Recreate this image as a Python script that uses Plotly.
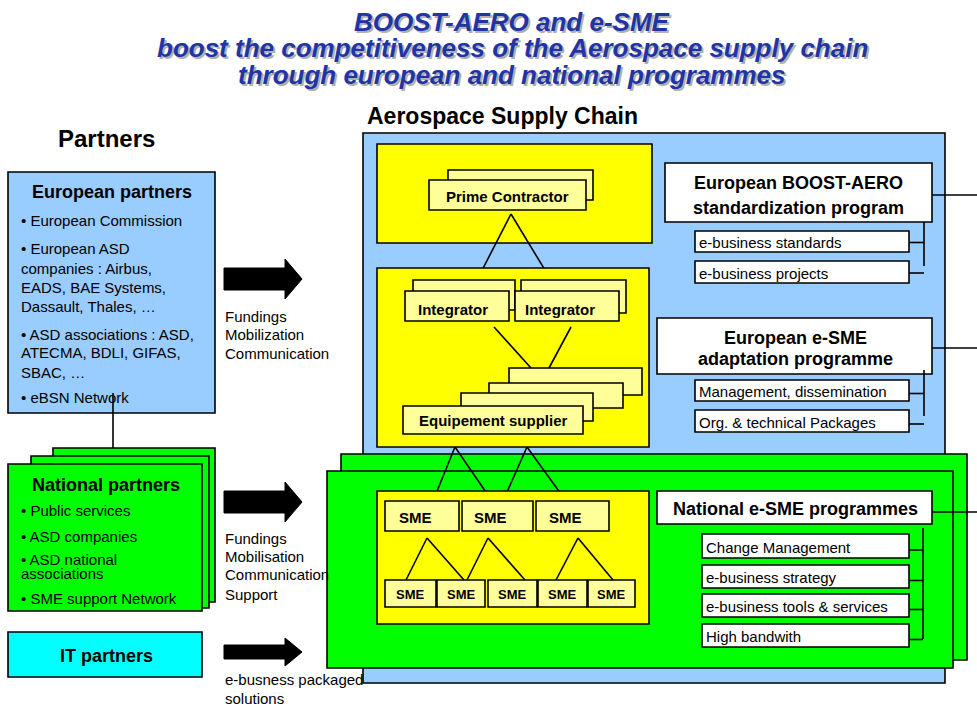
import plotly.graph_objects as go

FONT = "Liberation Sans, Arial, sans-serif"

# texts of the diagram
TITLE_LINES = [
    "BOOST-AERO and e-SME",
    "boost the competitiveness of the Aerospace supply chain",
    "through european and national programmes",
]
EUROPEAN_PARTNERS = [
    "• European Commission",
    "• European ASD",
    "companies : Airbus,",
    "EADS, BAE Systems,",
    "Dassault, Thales, …",
    "• ASD associations : ASD,",
    "ATECMA, BDLI, GIFAS,",
    "SBAC, …",
    "• eBSN Network",
]
NATIONAL_PARTNERS = [
    "• Public services",
    "• ASD companies",
    "• ASD national",
    "associations",
    "• SME support Network",
]
FLOW_EUROPEAN = ["Fundings", "Mobilization", "Communication"]
FLOW_NATIONAL = ["Fundings", "Mobilisation", "Communication", "Support"]
FLOW_IT = ["e-busness packaged", "solutions"]
BOOST_AERO_TITLE = ["European BOOST-AERO", "standardization program"]
BOOST_AERO_ITEMS = ["e-business standards", "e-business projects"]
ESME_EU_TITLE = ["European e-SME", "adaptation programme"]
ESME_EU_ITEMS = ["Management, dissemination", "Org. & technical Packages"]
ESME_NAT_TITLE = "National e-SME programmes"
ESME_NAT_ITEMS = ["Change Management", "e-business strategy",
                  "e-business tools & services", "High bandwith"]
INTEGRATORS = ["Integrator", "Integrator"]
SME_TOP = ["SME", "SME", "SME"]
SME_BOTTOM = ["SME", "SME", "SME", "SME", "SME"]

BLUE = "#99ccff"
GREEN = "#00ff00"
YELLOW = "#ffff00"
PALE = "#ffff99"
CYAN = "#00ffff"

shapes = []
notes = []


def rect(x0, y0, x1, y1, fill, w=1.6):
    shapes.append(dict(type="rect", x0=x0, y0=y0, x1=x1, y1=y1,
                       xref="x", yref="y", fillcolor=fill,
                       line=dict(color="black", width=w)))


def seg(x0, y0, x1, y1, w=1.6):
    shapes.append(dict(type="line", x0=x0, y0=y0, x1=x1, y1=y1,
                       xref="x", yref="y", line=dict(color="black", width=w)))


def arrow(x0, x1, tip, yc, half_body, half_head):
    path = (f"M {x0} {yc - half_body} L {x1} {yc - half_body} L {x1} {yc - half_head} "
            f"L {tip} {yc} L {x1} {yc + half_head} L {x1} {yc + half_body} "
            f"L {x0} {yc + half_body} Z")
    shapes.append(dict(type="path", path=path, xref="x", yref="y",
                       fillcolor="black", line=dict(color="black", width=1)))


def text(x, y, s, size=15, bold=False, anchor="left", color="black", italic=False):
    if bold:
        s = "<b>" + s + "</b>"
    if italic:
        s = "<i>" + s + "</i>"
    notes.append(dict(x=x, y=y, xref="x", yref="y", text=s, showarrow=False,
                      xanchor=anchor, yanchor="middle",
                      font=dict(family=FONT, size=size, color=color)))


# ---- titles (grey copy first = drop shadow)
for ty, line in zip([22, 48, 75], TITLE_LINES):
    text(514, ty + 2, line, size=26, bold=True, italic=True, anchor="center", color="#b0b0b0")
    text(512, ty, line, size=26, bold=True, italic=True, anchor="center", color="#1f35a5")
text(502, 116, "Aerospace Supply Chain", size=23, bold=True, anchor="center")
text(106, 138, "Partners", size=24, bold=True, anchor="center")

# ---- left column: partners
rect(8, 172, 215, 413, BLUE)
seg(113, 393, 113, 448)
text(112, 192, "European partners", size=18, bold=True, anchor="center")
for yy, line in zip([220, 248, 268, 287, 306, 334, 352, 372, 397], EUROPEAN_PARTNERS):
    text(19, yy, line)

rect(53, 448, 215, 602, GREEN)
rect(31, 456, 209, 608, GREEN)
rect(8, 464, 202, 611, GREEN)
text(106, 485, "National partners", size=18, bold=True, anchor="center")
for yy, line in zip([510, 536, 559, 573, 598], NATIONAL_PARTNERS):
    text(19, yy, line)

rect(8, 632, 202, 677, CYAN)
text(106, 656, "IT partners", size=18, bold=True, anchor="center")

# ---- arrows and their labels
arrow(224, 285, 302, 279, 11, 20)
arrow(224, 285, 302, 502, 11, 20)
arrow(224, 285, 302, 652, 7, 14)
for yy, line in zip([316, 334, 353], FLOW_EUROPEAN):
    text(223, yy, line)
for yy, line in zip([538, 556, 574, 594], FLOW_NATIONAL):
    text(223, yy, line)
for yy, line in zip([679, 698], FLOW_IT):
    text(223, yy, line)

# ---- aerospace supply chain frame
rect(363, 133, 945, 683, BLUE)
rect(341, 454, 967, 660, GREEN)
rect(327, 471, 953, 668, GREEN)

# prime contractor level
rect(377, 144, 652, 243, YELLOW)
rect(448, 170, 593, 200, PALE)
rect(429, 180, 586, 210, PALE)
text(507, 196, "Prime Contractor", bold=True, anchor="center")
seg(511, 214, 477, 280)
seg(511, 214, 551, 280)

# integrator / equipment level
rect(377, 268, 649, 447, YELLOW)
rect(413, 280, 515, 310, PALE)
rect(405, 291, 509, 321, PALE)
rect(521, 280, 626, 313, PALE)
rect(515, 291, 619, 321, PALE)
for xx, lab in zip([453, 560], INTEGRATORS):
    text(xx, 309, lab, bold=True, anchor="center")
seg(494, 327, 531, 368)
seg(571, 327, 549, 368)
rect(509, 368, 642, 395, PALE)
rect(489, 383, 623, 408, PALE)
rect(461, 393, 593, 421, PALE)
rect(403, 406, 583, 434, PALE)
text(493, 420, "Equipement supplier", bold=True, anchor="center")

# links down to SMEs
seg(455, 447, 433, 501)
seg(455, 447, 492, 501)
seg(527, 447, 503, 501)
seg(527, 447, 566, 501)

# SME level
rect(377, 491, 649, 624, YELLOW)
top_boxes = [(385, 459), (462, 533), (536, 609)]
for (a, b), lab in zip(top_boxes, SME_TOP):
    rect(a, 501, b, 531, PALE)
    text((a + b) / 2 - 7, 517, lab, bold=True, anchor="center")
seg(427, 538, 406, 580)
seg(427, 538, 464, 580)
seg(488, 538, 467, 580)
seg(488, 538, 525, 580)
seg(578, 538, 556, 580)
seg(578, 538, 613, 580)
bottom_boxes = [(385, 436), (437, 485), (488, 537), (538, 587), (588, 635)]
for (a, b), lab in zip(bottom_boxes, SME_BOTTOM):
    rect(a, 580, b, 607, PALE)
    text((a + b) / 2, 594, lab, size=13, bold=True, anchor="center")

# ---- programmes on the right
rect(665, 163, 932, 222, "white")
seg(932, 195, 977, 195)
text(798, 183, BOOST_AERO_TITLE[0], size=18, bold=True, anchor="center")
text(798, 208, BOOST_AERO_TITLE[1], size=18, bold=True, anchor="center")
seg(924, 222, 924, 266)
for (a, b), lab in zip([(231, 252), (261, 283)], BOOST_AERO_ITEMS):
    rect(695, a, 909, b, "white")
    seg(909, (a + b) / 2 + 1, 924, (a + b) / 2 + 1)
    text(697, (a + b) / 2 + 1, lab)

rect(657, 318, 932, 374, "white")
seg(932, 348, 977, 348)
text(795, 338, ESME_EU_TITLE[0], size=18, bold=True, anchor="center")
text(795, 359, ESME_EU_TITLE[1], size=18, bold=True, anchor="center")
seg(924, 370, 924, 416)
for (a, b), lab in zip([(380, 401), (410, 432)], ESME_EU_ITEMS):
    rect(695, a, 909, b, "white")
    seg(909, (a + b) / 2 + 3, 924, (a + b) / 2 + 3)
    text(697, (a + b) / 2 + 1, lab)

rect(657, 491, 932, 524, "white")
seg(932, 512, 977, 512)
text(795, 509, ESME_NAT_TITLE, size=18, bold=True, anchor="center")
seg(923, 528, 923, 639)
for (a, b), lab in zip([(534, 558), (565, 588), (594, 617), (624, 647)], ESME_NAT_ITEMS):
    rect(702, a, 909, b, "white")
    seg(909, (a + b) / 2 + 4, 923, (a + b) / 2 + 4)
    text(704, (a + b) / 2 + 1, lab)

fig = go.Figure()
fig.update_layout(
    width=977, height=704,
    margin=dict(l=0, r=0, t=0, b=0),
    paper_bgcolor="white", plot_bgcolor="white",
    xaxis=dict(range=[0, 977], visible=False, fixedrange=True),
    yaxis=dict(range=[704, 0], visible=False, fixedrange=True),
    shapes=shapes, annotations=notes, showlegend=False,
)
# the page body has a default 8px margin; drop it so the figure fills the window
fig.write_html("out.html", config={"displayModeBar": False},
               post_script="document.body.style.margin='0';document.body.style.overflow='hidden';")
